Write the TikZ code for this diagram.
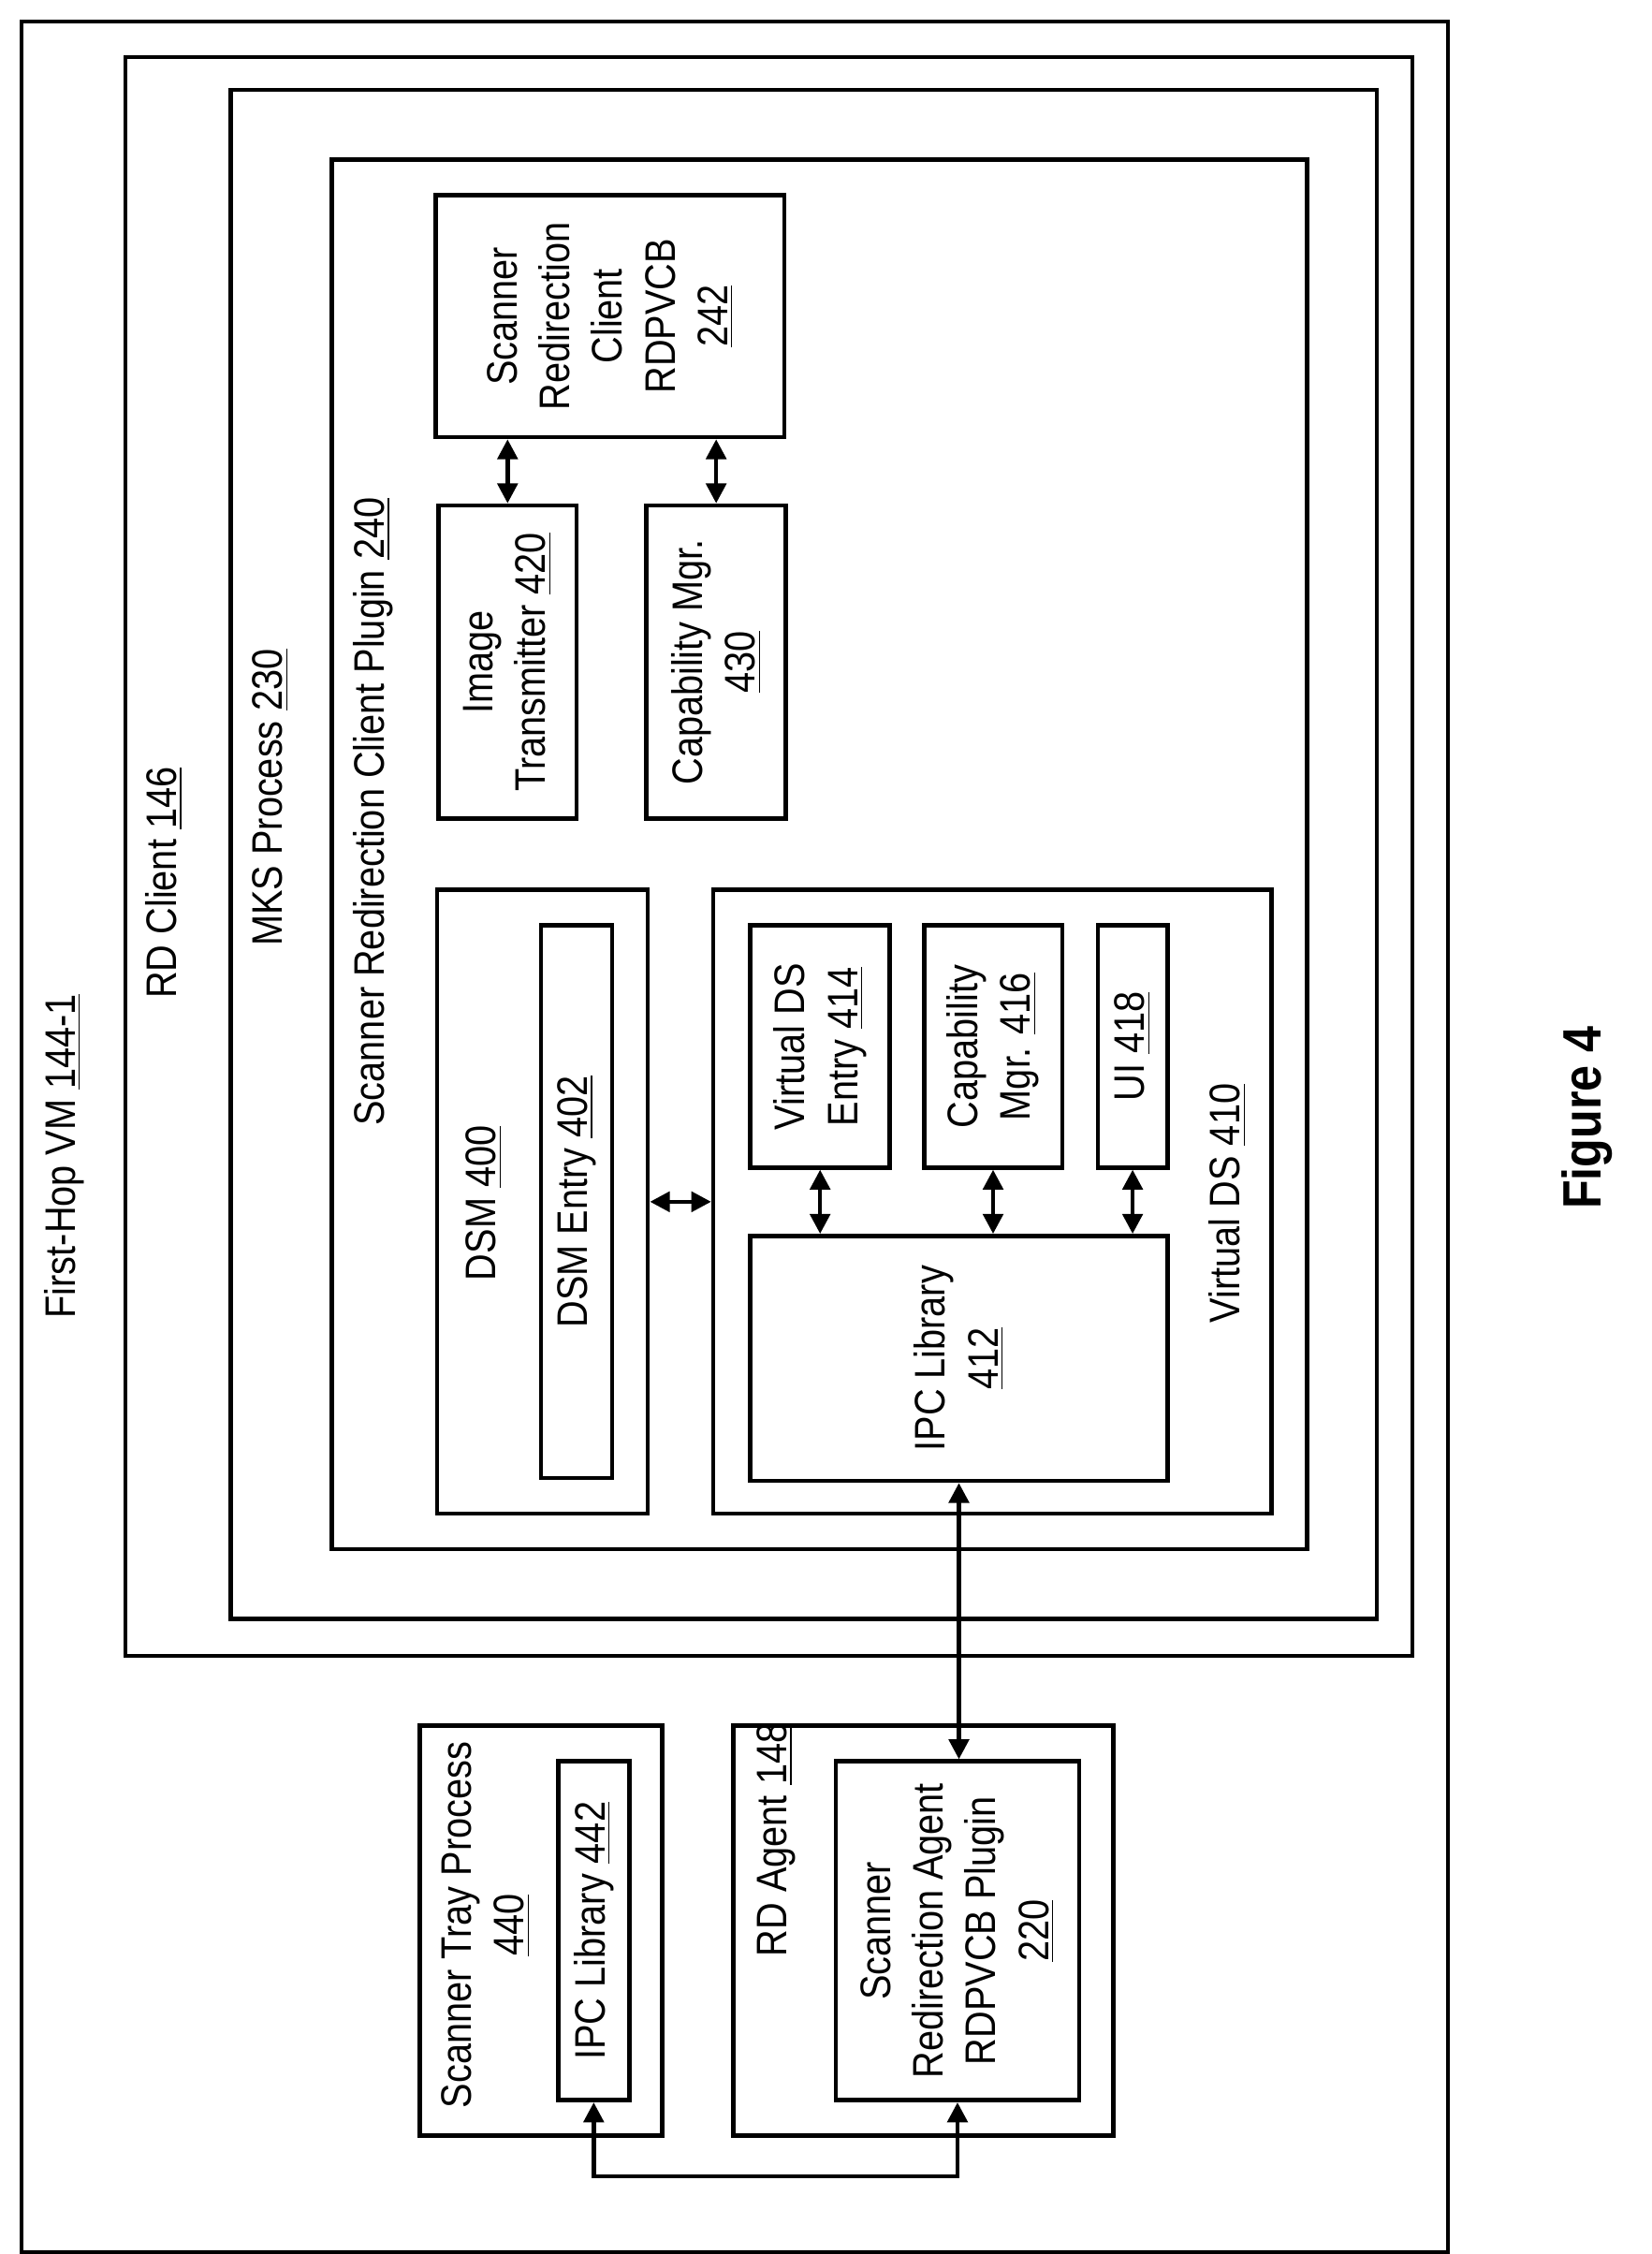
\documentclass[tikz,border=0pt]{standalone}
\usepackage{fontspec}
\setmainfont{Liberation Sans}[FakeStretch=0.87]
\usetikzlibrary{arrows.meta}
\tikzset{
  box/.style={draw, line width=1.5pt, rotate=90, inner sep=0pt, align=center,
    font=\fontsize{15}{18.5}\selectfont},
  lbl/.style={rotate=90, inner sep=0pt, align=center, font=\fontsize{15}{18.5}\selectfont},
  darr/.style={line width=1.5pt, {Triangle[length=7pt,width=7pt]}-{Triangle[length=7pt,width=7pt]}}
}
\begin{document}
\begin{tikzpicture}[x=0.5pt,y=-0.5pt]
\useasboundingbox (0,0) rectangle (1160,1583);
% containers
\node[box, minimum width=783.5pt, minimum height=501pt] (vm) at (516,798.5) {};
\node[box, minimum width=561.5pt, minimum height=452pt] (rdc) at (540,601.5) {};
\node[box, minimum width=537pt, minimum height=402.5pt] (mks) at (564.5,600) {};
\node[box, minimum width=488pt, minimum height=342.5pt] (plg) at (575.5,600) {};
\node[lbl] (vml) at (45,812) {First-Hop VM \underline{144-1}};
\node[lbl] (rdcl) at (115,620) {RD Client \underline{146}};
\node[lbl] (mksl) at (190,560) {MKS Process \underline{230}};
\node[lbl] (plgl) at (262,570) {Scanner Redirection Client Plugin \underline{240}};
% plugin contents
\node[box, minimum width=85pt, minimum height=122.5pt] (n242) at (428.5,222) {Scanner\\Redirection\\Client\\RDPVCB\\\underline{242}};
\node[box, minimum width=110pt, minimum height=48.5pt] (n420) at (356.5,465) {Image\\Transmitter \underline{420}};
\node[box, minimum width=110pt, minimum height=49pt] (n430) at (503,465) {Capability Mgr.\\\underline{430}};
\node[box, minimum width=219pt, minimum height=74pt] (dsm) at (381,844) {};
\node[lbl] (dsml) at (340,845) {DSM \underline{400}};
\node[box, minimum width=194pt, minimum height=25pt] (n402) at (405,844) {DSM Entry \underline{402}};
\node[box, minimum width=219pt, minimum height=196pt] (vds) at (697,844) {};
\node[lbl] (vdsl) at (862,845) {Virtual DS \underline{410}};
\node[box, minimum width=85pt, minimum height=49pt] (n414) at (576,735) {Virtual DS\\Entry \underline{414}};
\node[box, minimum width=85pt, minimum height=48.5pt] (n416) at (697.5,735) {Capability\\Mgr. \underline{416}};
\node[box, minimum width=85pt, minimum height=24.5pt] (n418) at (795.5,735) {UI \underline{418}};
\node[box, minimum width=86pt, minimum height=146.5pt] (n412) at (673.5,954) {IPC Library\\\underline{412}};
% agent side
\node[box, minimum width=144pt, minimum height=85pt] (tray) at (380,1356) {};
\node[lbl] (trayl) at (341,1352) {Scanner Tray Process\\\underline{440}};
\node[box, minimum width=119pt, minimum height=25pt] (n442) at (417,1356) {IPC Library \underline{442}};
\node[box, minimum width=144pt, minimum height=133.5pt] (rda) at (648.5,1356) {};
\node[lbl] (rdal) at (545,1292) {RD Agent \underline{148}};
\node[box, minimum width=119pt, minimum height=85.5pt] (n220) at (672.5,1356) {Scanner\\Redirection Agent\\RDPVCB Plugin\\\underline{220}};
\node[lbl, font=\bfseries\fontsize{19}{22}\selectfont] (fig) at (1115,785) {Figure 4};
% connectors
\draw[darr] (n242.west -| n420) -- (n420.east);
\draw[darr] (n242.west -| n430) -- (n430.east);
\draw[darr] (dsm.south) -- (vds.north);
\draw[darr] (n414.west) -- (n412.east -| n414);
\draw[darr] (n416.west) -- (n412.east -| n416);
\draw[darr] (n418.west) -- (n412.east -| n418);
\draw[darr] (n412.west) -- (n412.west |- n220.east);
\draw[darr] (n442.west) -- ++(0,52) -| (n220.west);
\end{tikzpicture}
\end{document}
